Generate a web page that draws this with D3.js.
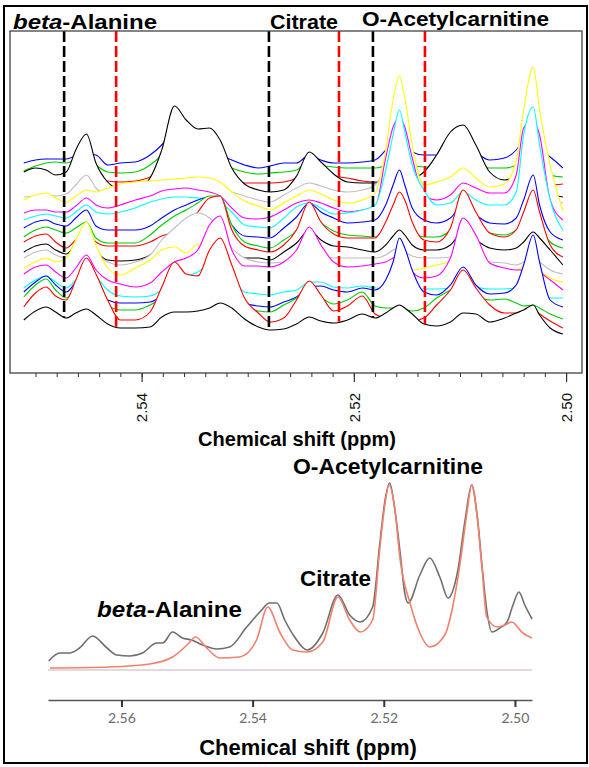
<!DOCTYPE html>
<html><head><meta charset="utf-8">
<script src="https://cdn.jsdelivr.net/npm/d3@7"></script>
<style>
body{margin:0;background:#fff}
svg text{font-family:"Liberation Sans",Arial,Helvetica,sans-serif}
</style>
</head><body>
<svg id="chart" width="589" height="767"></svg>
<script>
// ---------- Top panel: stacked spectra (chemical shift grid, ppm) ----------
const shiftGrid = [2.5511,2.5500,2.5490,2.5481,2.5471,2.5462,2.5452,2.5443,2.5432,2.5420,
  2.5406,2.5392,2.5381,2.5369,2.5358,2.5347,2.5336,2.5326,2.5315,2.5303,
  2.5290,2.5279,2.5266,2.5254,2.5242,2.5231,2.5219,2.5206,2.5192,2.5180,
  2.5170,2.5163,2.5157,2.5152,2.5145,2.5134,2.5122,2.5109,2.5097,2.5085,
  2.5072,2.5058,2.5047,2.5040,2.5031,2.5025,2.5015,2.5003];

// intensities (a.u., stacked offsets included); spectrum01 = front/bottom
const spectrum01 = [53,62,66,61,55,60,64,58,49,45,45,46,56,61,61,62,65,70,65,54,46,43,44,49,56,52,50,53,59,55,60,65,68,65,59,49,47,51,60,59,51,55,60,63,68,58,45,39];
const spectrum02 = [66,80,86,77,73,93,115,99,73,53,53,61,86,111,99,97,123,135,108,75,60,51,55,73,92,78,62,67,77,59,55,53,52,52,52,55,68,83,103,85,68,60,60,61,64,59,52,45];
const spectrum03 = [76,88,94,83,75,88,103,88,68,63,63,68,75,88,89,93,101,105,90,67,62,61,68,75,86,76,69,73,81,67,65,65,65,64,62,65,75,83,93,78,73,74,70,67,68,65,59,54];
const spectrum04 = [81,91,97,88,81,91,105,91,73,70,70,71,77,90,93,97,105,108,91,70,67,66,71,76,86,87,83,81,85,83,93,111,135,125,103,81,78,88,106,88,79,80,88,108,138,111,73,66];
const spectrum05 = [85,93,97,91,85,93,107,97,83,77,76,77,83,95,97,101,110,113,98,81,79,78,81,83,91,91,86,85,87,85,84,83,83,83,83,84,84,85,90,86,84,84,85,84,83,79,75,75];
const spectrum06 = [99,106,108,101,95,105,118,103,93,89,86,90,101,111,115,123,148,157,123,107,107,106,111,123,146,128,111,106,107,109,111,115,118,111,101,95,97,115,155,138,110,105,103,103,105,101,93,83];
const spectrum07 = [105,111,115,111,115,133,151,128,105,98,105,113,123,126,120,129,128,123,110,104,100,95,98,103,111,108,106,103,101,98,101,105,108,105,103,105,108,111,115,108,101,101,103,107,111,103,95,91];
const spectrum08 = [115,121,123,118,115,123,133,121,111,108,111,118,133,145,155,160,155,143,125,115,111,110,111,113,123,118,115,115,115,115,118,123,125,121,117,115,115,116,123,115,111,110,108,111,115,111,103,99];
const spectrum09 = [121,127,129,123,119,129,141,123,113,112,113,118,129,135,137,141,137,131,119,115,115,113,121,130,143,133,127,126,123,121,128,137,143,138,128,123,123,128,141,133,125,123,125,131,141,135,123,108];
const spectrum10 = [131,137,139,131,125,133,141,131,127,127,127,131,137,141,147,161,175,177,143,127,123,121,128,143,171,151,139,135,135,135,151,168,181,173,151,133,131,145,183,161,140,136,143,161,183,161,128,116];
const spectrum11 = [136,143,146,143,140,145,151,135,130,130,130,138,148,157,163,170,177,177,148,131,127,125,133,143,169,151,142,138,137,136,145,158,168,161,145,136,136,143,163,148,140,138,143,151,165,148,131,125];
const spectrum12 = [145,151,153,149,147,155,163,147,143,143,143,147,155,163,168,173,176,168,148,137,136,135,145,156,170,161,155,150,151,153,168,188,203,188,165,153,150,155,168,158,150,149,155,173,198,168,141,133];
const spectrum13 = [153,157,159,157,155,161,168,161,159,161,165,171,174,176,176,175,174,171,161,148,146,145,155,166,170,165,159,160,163,168,203,238,263,241,208,183,168,170,181,173,168,168,181,238,266,228,173,143];
const spectrum14 = [160,163,163,161,161,167,175,168,165,168,173,177,182,184,185,183,181,177,165,155,154,156,163,170,173,170,165,161,163,166,215,246,255,246,215,178,173,178,190,185,180,180,198,245,253,238,173,153];
const spectrum15 = [173,178,180,175,171,177,183,181,185,189,191,192,193,194,195,196,195,191,181,172,167,163,170,177,183,179,173,170,173,180,223,273,297,275,228,188,191,196,205,195,186,189,213,263,306,263,208,162];
const spectrum16 = [176,177,178,177,179,188,198,185,177,175,176,179,185,189,190,189,187,184,181,177,173,171,178,185,190,187,183,181,183,188,208,233,243,233,208,188,183,185,193,186,181,181,193,213,233,208,178,170];
const spectrum17 = [201,205,203,198,201,223,239,210,191,184,183,195,223,267,253,244,245,233,205,189,183,181,183,197,221,211,199,191,190,190,195,203,208,201,195,201,218,241,248,228,201,193,198,208,213,198,180,176];
const spectrum18 = [191,191,192,193,195,201,205,195,192,191,192,196,208,223,223,213,208,201,191,190,190,190,191,195,205,201,197,195,192,191,195,203,211,203,195,193,195,201,208,198,193,191,193,201,213,197,188,189];
const spectrum19 = [202,207,210,211,210,213,215,208,201,200,201,208,218,233,233,225,218,211,205,201,199,200,201,203,213,208,206,205,205,205,208,215,223,215,208,206,206,208,213,208,205,205,208,215,223,208,198,196];
const spectrum20 = [210,213,214,214,214,217,219,218,208,210,211,218,228,243,243,235,225,218,213,208,205,207,210,210,218,213,210,210,211,213,223,233,238,228,221,218,218,220,223,220,213,215,223,233,238,223,216,205];

const spectrumColors = ["#000000","#ff0000","#00cd00","#0000ff","#00ffff","#ff00ff","#ffff00","#bebebe"];

// dashed reference positions (ppm)
const markerShifts = [2.5473, 2.5424, 2.5280, 2.5214, 2.5182, 2.5133];
const markerColors = ["#000000","#ff0000","#000000","#ff0000","#000000","#ff0000"];

const topTickLabels = [2.54, 2.52, 2.50];
const metaboliteLabels = ["beta", "-Alanine", "Citrate", "O-Acetylcarnitine"];
const axisTitle = "Chemical shift (ppm)";

// ---------- Bottom panel: observed vs fitted spectrum ----------
const observedSpectrum = [[2.5711,9],[2.5694,17],[2.5679,17],[2.5664,22],[2.5644,34],[2.5622,22],[2.5607,15],[2.5587,14],[2.5568,17],[2.5546,27],
  [2.5537,27],[2.5522,38],[2.5507,32],[2.5493,30],[2.5476,25],[2.5455,21],[2.5435,23],[2.5409,43],[2.5389,58],[2.5374,67],
  [2.5363,67],[2.5351,50],[2.5336,33],[2.5317,20],[2.5293,37],[2.5270,75],[2.5252,55],[2.5236,48],[2.5217,63],[2.5206,127],
  [2.5198,170],[2.5191,187],[2.5183,160],[2.5175,117],[2.5168,77],[2.5163,67],[2.5145,95],[2.5130,112],[2.5114,92],[2.5102,72],
  [2.5087,100],[2.5076,150],[2.5066,185],[2.5058,157],[2.5050,103],[2.5043,60],[2.5035,38],[2.5023,42],[2.5012,48],[2.5003,65],
  [2.4994,78],[2.4985,65],[2.4974,51]];
const fittedSpectrum = [[2.5709,2],[2.5618,3],[2.5557,6],[2.5522,13],[2.5500,25],[2.5487,33],[2.5470,22],[2.5450,12],[2.5420,13],[2.5394,30],
  [2.5377,63],[2.5358,37],[2.5339,20],[2.5317,18],[2.5293,28],[2.5270,73],[2.5252,50],[2.5236,38],[2.5217,50],[2.5206,122],
  [2.5198,167],[2.5192,185],[2.5183,160],[2.5175,110],[2.5160,67],[2.5145,37],[2.5130,23],[2.5107,35],[2.5095,63],[2.5084,105],
  [2.5073,158],[2.5066,185],[2.5058,155],[2.5050,100],[2.5043,53],[2.5027,43],[2.5015,45],[2.5005,48],[2.4988,37],[2.4974,32]];
const bottomTickLabels = [2.56, 2.54, 2.52, 2.50];

// ================= drawing =================
const svg = d3.select("#chart");
const spectra = [spectrum01,spectrum02,spectrum03,spectrum04,spectrum05,spectrum06,spectrum07,spectrum08,spectrum09,spectrum10,
  spectrum11,spectrum12,spectrum13,spectrum14,spectrum15,spectrum16,spectrum17,spectrum18,spectrum19,spectrum20];

// outer frame
svg.append("rect").attr("x",4).attr("y",6).attr("width",583).attr("height",757)
  .attr("fill","none").attr("stroke","#000").attr("stroke-width",2);

// ---- top panel ----
const xTop = d3.scaleLinear().domain([2.5524, 2.4985]).range([10, 582]);
const yTop = d3.scaleLinear().domain([0, 342]).range([373, 31]);
const gTop = svg.append("g");

const lineTop = d3.line().x((d,i)=>xTop(shiftGrid[i])).y(d=>yTop(d)).curve(d3.curveMonotoneX);
const areaTop = d3.area().x((d,i)=>xTop(shiftGrid[i])).y0(yTop(0)).y1(d=>yTop(d)).curve(d3.curveMonotoneX);

for (let i = spectra.length - 1; i >= 0; i--) {
  gTop.append("path").datum(spectra[i]).attr("d", areaTop).attr("fill","#fff");
  gTop.append("path").datum(spectra[i]).attr("d", lineTop)
    .attr("fill","none").attr("stroke", spectrumColors[i % 8]).attr("stroke-width",1.1);
}

// dashed markers down to the front spectrum
const frontAt = d3.scaleLinear().domain(shiftGrid).range(spectrum01);
markerShifts.forEach((s,k)=>{
  gTop.append("line").attr("x1",xTop(s)).attr("x2",xTop(s))
    .attr("y1",yTop(342)).attr("y2",yTop(frontAt(s)))
    .attr("stroke",markerColors[k]).attr("stroke-width",2.6).attr("stroke-dasharray","11,4");
});

// box
gTop.append("rect").attr("x",10).attr("y",31).attr("width",572).attr("height",342)
  .attr("fill","none").attr("stroke","#444").attr("stroke-width",1.3);

// ticks
const minorTicks = d3.range(0,26).map(k=>+(2.500 + k*0.002).toFixed(3));
const axMinor = d3.axisBottom(xTop).tickValues(minorTicks).tickSize(4).tickFormat("");
const gMinor = gTop.append("g").attr("transform","translate(0,373)").call(axMinor);
gMinor.select(".domain").remove();
gMinor.selectAll("line").attr("stroke","#333");
const axMajor = d3.axisBottom(xTop).tickValues(topTickLabels).tickSize(9).tickFormat(d3.format(".2f"));
const gMajor = gTop.append("g").attr("transform","translate(0,373)").call(axMajor);
gMajor.select(".domain").remove();
gMajor.selectAll("line").attr("stroke","#333").attr("stroke-width",1.2);
gMajor.selectAll("text").attr("transform","rotate(-90)").attr("text-anchor","end")
  .attr("x",-20).attr("y",0).attr("dy","0.35em")
  .attr("font-size",15).attr("fill","#111")
  .style("font-family","'Liberation Sans',Arial,sans-serif");

svg.append("text").attr("x",297).attr("y",446).attr("text-anchor","middle")
  .attr("font-size",20).attr("font-weight","bold").attr("fill","#000").text(axisTitle);

// top labels
function betaLabel(x, y, size, len) {
  const t = svg.append("text").attr("x",x).attr("y",y).attr("font-size",size)
    .attr("font-weight","bold").attr("fill","#000")
    .attr("textLength",len).attr("lengthAdjust","spacingAndGlyphs");
  t.append("tspan").attr("font-style","italic").text(metaboliteLabels[0]);
  t.append("tspan").text(metaboliteLabels[1]);
}
function plainLabel(txt, x, y, size, len) {
  svg.append("text").attr("x",x).attr("y",y).attr("font-size",size)
    .attr("font-weight","bold").attr("fill","#000")
    .attr("textLength",len).attr("lengthAdjust","spacingAndGlyphs").text(txt);
}
betaLabel(13, 29, 21, 144);
plainLabel(metaboliteLabels[2], 270, 29, 21, 68);
plainLabel(metaboliteLabels[3], 362, 26, 21, 187);

// ---- bottom panel ----
const xBot = d3.scaleLinear().domain([2.5712, 2.4974]).range([48, 532]);
const yBot = d3.scaleLinear().domain([0, 190]).range([670, 480]);
const gBot = svg.append("g");

gBot.append("line").attr("x1",xBot(2.5712)).attr("x2",xBot(2.4974))
  .attr("y1",yBot(0)).attr("y2",yBot(0)).attr("stroke","#dccdd1").attr("stroke-width",1.6);

const lineBot = d3.line().x(d=>xBot(d[0])).y(d=>yBot(d[1])).curve(d3.curveMonotoneX);
gBot.append("path").datum(observedSpectrum).attr("d",lineBot)
  .attr("fill","none").attr("stroke","#6f6f6f").attr("stroke-width",1.6);
gBot.append("path").datum(fittedSpectrum).attr("d",lineBot)
  .attr("fill","none").attr("stroke","#f2806e").attr("stroke-width",1.6);

const axBot = d3.axisBottom(xBot).tickValues(bottomTickLabels).tickFormat(d3.format(".2f"))
  .tickSizeInner(7).tickSizeOuter(0).tickPadding(6);
const gAxB = gBot.append("g").attr("transform","translate(0,700)").call(axBot);
gAxB.select(".domain").attr("stroke","#555").attr("stroke-width",1.5);
gAxB.selectAll("line").attr("stroke","#333").attr("stroke-width",2);
gAxB.selectAll("text").attr("font-size",14).attr("fill","#6a6a6a")
  .style("font-family","Lato,'Liberation Sans',sans-serif");

svg.append("text").attr("x",308).attr("y",755).attr("text-anchor","middle")
  .attr("font-size",22).attr("font-weight","bold").attr("fill","#000").text(axisTitle);

betaLabel(97, 617, 22, 145);
plainLabel(metaboliteLabels[2], 300, 586, 22, 71);
plainLabel(metaboliteLabels[3], 293, 474, 22, 190);
</script>
</body></html>
